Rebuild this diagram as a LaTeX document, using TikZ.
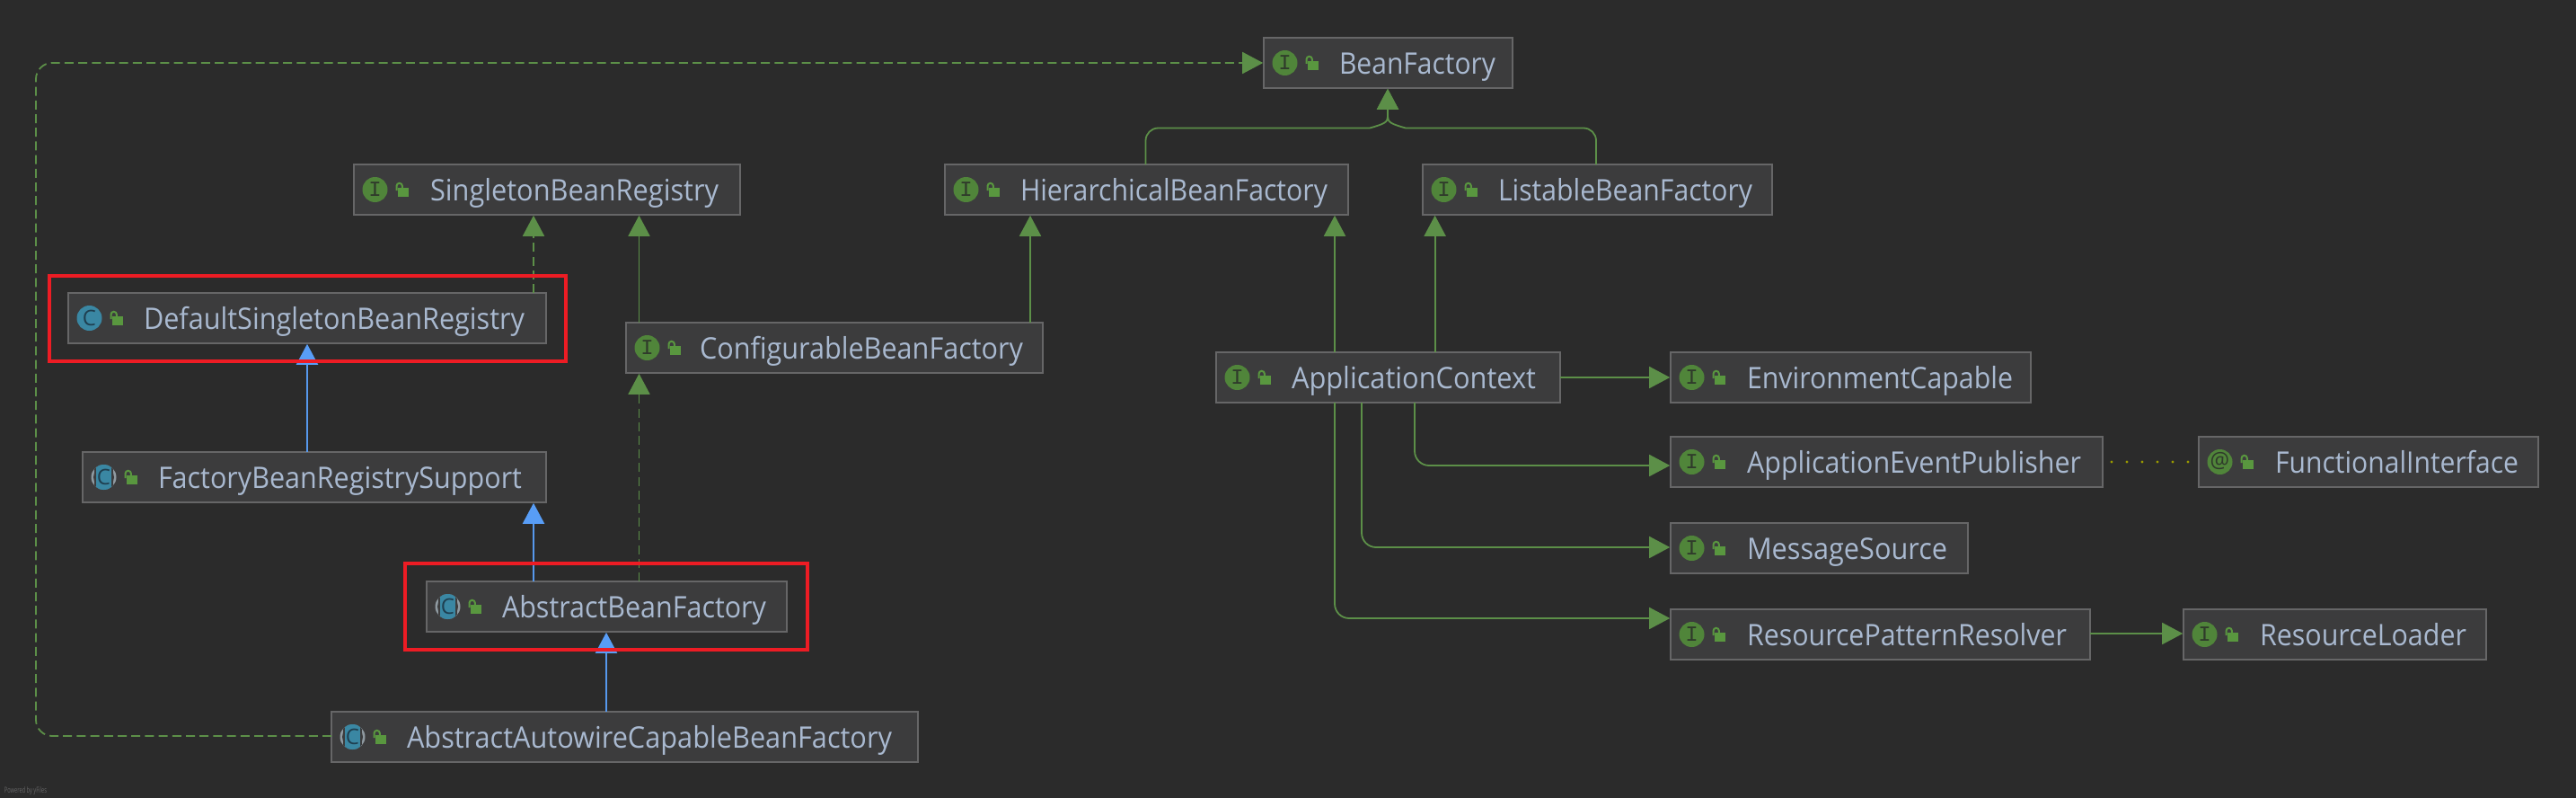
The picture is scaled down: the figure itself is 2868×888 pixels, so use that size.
\documentclass[tikz,border=0pt]{standalone}
\usepackage{fontspec}
\usepackage{graphicx}
\setmainfont{Open Sans}
\newfontfamily\monofam{Liberation Mono}
\usetikzlibrary{arrows.meta}
\definecolor{bgc}{HTML}{2B2B2B}
\definecolor{boxfill}{HTML}{3C3C3D}
\definecolor{boxline}{HTML}{666667}
\definecolor{txt}{HTML}{A9B9D0}
\definecolor{grn}{HTML}{5C8F48}
\definecolor{grnicon}{HTML}{50853A}
\definecolor{lockc}{HTML}{59973F}
\definecolor{teal}{HTML}{3A87A3}
\definecolor{ringc}{HTML}{8F9AA1}
\definecolor{glyphc}{HTML}{2F3A2B}
\definecolor{glyphb}{HTML}{1F3F50}
\definecolor{bluetip}{HTML}{589DF6}
\definecolor{blueln}{HTML}{5698EC}
\definecolor{redc}{HTML}{ED1C24}
\definecolor{olivec}{HTML}{9A9A00}
\tikzset{
  x=0.5pt, y=-0.5pt,
  umlbox/.style={draw=boxline, fill=boxfill, line width=0.8pt, inner sep=0pt, outer sep=0pt, anchor=north west},
  lbl/.style={text=txt, inner sep=0pt, outer sep=0pt, anchor=base west, font=\fontsize{16.5}{16.5}\selectfont},
  glyph/.style={inner sep=0pt, outer sep=0pt},
  redbox/.style={draw=redc, line width=2pt, inner sep=0pt, outer sep=0pt, anchor=north west},
  gtip/.style={-{Triangle[length=11.5pt,width=12pt,color=grn,fill=grn]}, shorten >=0.4pt},
  impl/.style={draw=grn, line width=0.9pt, gtip},
  depnd/.style={draw=grn, line width=0.9pt, gtip, dash pattern=on 5pt off 2.6pt},
  inherit/.style={draw=blueln, line width=1.1pt, -{Triangle[length=11.5pt,width=12pt,color=bluetip,fill=bluetip]}, shorten >=0.4pt},
  annot/.style={draw=olivec, line width=1.6pt, line cap=round, dash pattern=on 0pt off 8.5pt, shorten <=5pt, shorten >=6pt},
  round/.style={rounded corners=8pt},
}
% icons: drawn relative to (box left, box centre)
\newcommand{\lockicon}{%
  \fill[lockc] (49,-2) rectangle (61,8);
  \draw[lockc, line width=1pt] (47.5,1) -- (47.5,-4) arc[start angle=180, end angle=360, radius=3.2] -- (53.9,-2);
}
\newcommand{\iconI}[1]{%
  \fill[grnicon] (23.5,0) circle[radius=14];
  \node[glyph, text=glyphc, font=\monofam\fontsize{12}{12}\selectfont] (#1-g) at (23.5,0) {I};
}
\newcommand{\iconAt}[1]{%
  \fill[grnicon] (23.5,0) circle[radius=14];
  \node[glyph, text=glyphc, font=\fontsize{12}{12}\selectfont] (#1-g) at (23.5,-0.5) {@};
}
\newcommand{\iconC}[1]{%
  \fill[teal] (23.5,0) circle[radius=14];
  \node[glyph, text=glyphb, font=\fontsize{12}{12}\selectfont] (#1-g) at (23.5,-0.5) {C};
}
\newcommand{\iconAbs}[1]{%
  \fill[ringc] (23.5,0) circle[radius=14];
  \fill[boxfill] (23.5,0) circle[radius=11.5];
  \begin{scope}
    \clip (23.5,0) circle[radius=14];
    \fill[boxfill] (13,-15) rectangle (34,15);
    \fill[teal] (15,-15) rectangle (32,15);
  \end{scope}
  \node[glyph, text=glyphb, font=\fontsize{12}{12}\selectfont] (#1-g) at (23.5,-0.5) {C};
}
% name, x0, y0, x1, y1, icon macro, text x, text width, text
\newcommand{\ubox}[9]{%
  \pgfmathsetmacro{\cyv}{(#3+#5)/2}
  \pgfmathsetmacro{\wv}{(#4-#2)*0.5}
  \pgfmathsetmacro{\hv}{(#5-#3)*0.5}
  \node[umlbox, minimum width=\wv pt, minimum height=\hv pt] (#1) at (#2,#3) {};
  \begin{scope}[shift={(#2,\cyv)}]
    #6{#1}
    \lockicon
  \end{scope}
  \node[lbl] (#1-t) at (#7,\cyv+12.5) {\resizebox{\dimexpr #8pt/2\relax}{\height}{#9}};
}
\begin{document}
\begin{tikzpicture}
\path[use as bounding box, fill=bgc] (0,0) rectangle (2868,888);

\foreach \n/\v in {40/40,342/342,594/594,674/675,711/711.5,1147/1147,1275/1275.5,1486/1486,1516/1516,1545/1545,1575/1575,1597/1597.6,1777/1777}
  {\coordinate (cx\n) at (\v,0);}
\foreach \n/\v in {70/70,142/142.5,420/420,514/514,518/518,609/609,688/688,705/705,819/819}
  {\coordinate (ry\n) at (0,\v);}

\ubox{bf}{1407}{42}{1684}{98}{\iconI}{1491}{174}{BeanFactory}
\ubox{sing}{394}{183}{824}{239}{\iconI}{479}{321}{SingletonBeanRegistry}
\ubox{hier}{1052}{183}{1501}{239}{\iconI}{1136}{342}{HierarchicalBeanFactory}
\ubox{list}{1584}{183}{1973}{239}{\iconI}{1668}{283}{ListableBeanFactory}
\ubox{def}{76}{326}{608}{382}{\iconC}{160}{424}{DefaultSingletonBeanRegistry}
\ubox{conf}{697}{359}{1161}{415}{\iconI}{779}{360}{ConfigurableBeanFactory}
\ubox{app}{1354}{392}{1737}{448}{\iconI}{1438}{272}{ApplicationContext}
\ubox{env}{1860}{392}{2261}{448}{\iconI}{1945}{296}{EnvironmentCapable}
\ubox{aep}{1860}{486}{2341}{542}{\iconI}{1945}{372}{ApplicationEventPublisher}
\ubox{fi}{2448}{486}{2826}{542}{\iconAt}{2533}{271}{FunctionalInterface}
\ubox{fbr}{92}{503}{608}{559}{\iconAbs}{176}{405}{FactoryBeanRegistrySupport}
\ubox{ms}{1860}{582}{2191}{638}{\iconI}{1945}{223}{MessageSource}
\ubox{abf}{475}{647}{876}{703}{\iconAbs}{559}{294}{AbstractBeanFactory}
\ubox{rpr}{1860}{678}{2327}{734}{\iconI}{1945}{356}{ResourcePatternResolver}
\ubox{rl}{2431}{678}{2768}{734}{\iconI}{2516}{230}{ResourceLoader}
\ubox{auto}{369}{792}{1022}{848}{\iconAbs}{453}{540}{AbstractAutowireCapableBeanFactory}

\node[inner sep=0pt, outer sep=0pt, anchor=base west, text=boxline, font=\fontsize{4.5}{4.5}\selectfont] (yf) at (5,882) {\resizebox{23.5pt}{\height}{Powered by yFiles}};

% merge into BeanFactory
\coordinate (mergeL) at (1525,142.5);
\coordinate (mergeR) at (1565,142.5);
\coordinate (mergeC) at (1545,130);
\draw[impl] (cx1275 |- hier.north) [rounded corners=7pt] -- (cx1275 |- ry142) [sharp corners] -- (mergeL)
   .. controls (1541,138) and (1545,136) .. (mergeC) -- (cx1545 |- bf.south);
\draw[impl] (cx1777 |- list.north) [rounded corners=7pt] -- (cx1777 |- ry142) [sharp corners] -- (mergeR)
   .. controls (1549,138) and (1545,136) .. (mergeC) -- (cx1545 |- bf.south);

% interfaces
\draw[impl] (cx711 |- conf.north) -- (cx711 |- sing.south);
\draw[impl] (cx1147 |- conf.north) -- (cx1147 |- hier.south);
\draw[impl] (cx1486 |- app.north) -- (cx1486 |- hier.south);
\draw[impl] (cx1597 |- app.north) -- (cx1597 |- list.south);
\draw[impl] (app.east |- ry420) -- (env.west |- ry420);
\draw[impl, round] (cx1575 |- app.south) -- (cx1575 |- ry518) -- (aep.west |- ry518);
\draw[impl, round] (cx1516 |- app.south) -- (cx1516 |- ry609) -- (ms.west |- ry609);
\draw[impl, round] (cx1486 |- app.south) -- (cx1486 |- ry688) -- (rpr.west |- ry688);
\draw[impl] (rpr.east |- ry705) -- (rl.west |- ry705);
\draw[annot] (aep.east |- ry514) -- (fi.west |- ry514);

% implements (dashed)
\draw[depnd] (cx594 |- def.north) -- (cx594 |- sing.south);
\draw[depnd] (cx711 |- abf.north) -- (cx711 |- conf.south);
\draw[depnd, rounded corners=9pt] (auto.west |- ry819) -- (cx40 |- ry819) -- (cx40 |- ry70) -- (bf.west |- ry70);

% extends
\draw[inherit] (cx342 |- fbr.north) -- (cx342 |- def.south);
\draw[inherit] (cx594 |- abf.north) -- (cx594 |- fbr.south);
\draw[inherit] (cx674 |- auto.north) -- (cx674 |- abf.south);

% highlight frames
\node[redbox, minimum width=287.5pt, minimum height=47.5pt] (mark1) at (55,306.5) {};
\node[redbox, minimum width=224pt, minimum height=48pt] (mark2) at (451,627) {};
\end{tikzpicture}
\end{document}
